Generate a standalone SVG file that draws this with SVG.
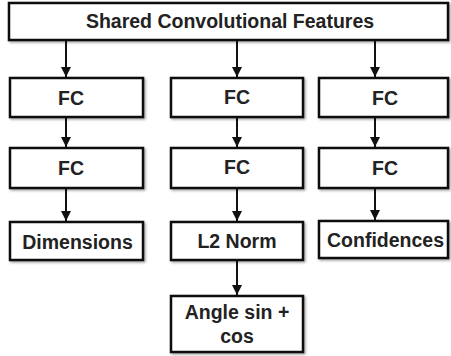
<svg xmlns="http://www.w3.org/2000/svg" width="451" height="356" viewBox="0 0 451 356">
<defs>
<marker id="ah" viewBox="0 0 10 10" refX="10" refY="5" markerWidth="5" markerHeight="5" markerUnits="strokeWidth" orient="auto">
<path d="M0,0 L10,5 L0,10 z" fill="#111"/>
</marker>
<filter id="sh" x="-5%" y="-10%" width="115%" height="130%">
<feDropShadow dx="1.5" dy="1.5" stdDeviation="1" flood-color="#000" flood-opacity="0.35"/>
</filter>
</defs>
<style>
.box{fill:#fff;stroke:#111;stroke-width:2.5;filter:url(#sh)}
.t{font-family:"Liberation Sans",Arial,sans-serif;font-weight:bold;font-size:19.5px;fill:#222;text-anchor:middle;dominant-baseline:central}
.c{stroke:#111;stroke-width:2;fill:none;marker-end:url(#ah)}
</style>
<rect width="451" height="356" fill="#fff"/>
<g id="connectors">
<line class="c" x1="66" y1="41" x2="66" y2="77"/>
<line class="c" x1="237" y1="41" x2="237" y2="77"/>
<line class="c" x1="375" y1="41" x2="375" y2="77"/>
<line class="c" x1="66" y1="118" x2="66" y2="147"/>
<line class="c" x1="237" y1="118" x2="237" y2="147"/>
<line class="c" x1="375" y1="118" x2="375" y2="147"/>
<line class="c" x1="66" y1="189" x2="66" y2="221"/>
<line class="c" x1="237" y1="189" x2="237" y2="221"/>
<line class="c" x1="375" y1="189" x2="375" y2="220"/>
<line class="c" x1="237" y1="261" x2="237" y2="295"/>
</g>
<g id="shared"><rect class="box" x="9" y="3" width="439" height="37"/><text class="t" x="230" y="21">Shared Convolutional Features</text></g>
<g id="fc1a"><rect class="box" x="10" y="78" width="133" height="39"/><text class="t" x="71" y="98">FC</text></g>
<g id="fc1b"><rect class="box" x="171" y="78" width="132" height="39"/><text class="t" x="237" y="97">FC</text></g>
<g id="fc1c"><rect class="box" x="319" y="78" width="129" height="39"/><text class="t" x="385" y="98">FC</text></g>
<g id="fc2a"><rect class="box" x="10" y="148" width="133" height="40"/><text class="t" x="71" y="168">FC</text></g>
<g id="fc2b"><rect class="box" x="171" y="148" width="132" height="40"/><text class="t" x="237" y="167">FC</text></g>
<g id="fc2c"><rect class="box" x="319" y="148" width="129" height="40"/><text class="t" x="385" y="168">FC</text></g>
<g id="dimensions"><rect class="box" x="10" y="222" width="133" height="38"/><text class="t" x="77.5" y="242">Dimensions</text></g>
<g id="l2norm"><rect class="box" x="171" y="222" width="132" height="38"/><text class="t" x="237" y="241">L2 Norm</text></g>
<g id="confidences"><rect class="box" x="319" y="221" width="129" height="37"/><text class="t" x="385.5" y="240">Confidences</text></g>
<g id="angle"><rect class="box" x="171" y="296" width="132" height="56"/><text class="t" x="237" y="312">Angle sin +</text><text class="t" x="237" y="336">cos</text></g>
</svg>
